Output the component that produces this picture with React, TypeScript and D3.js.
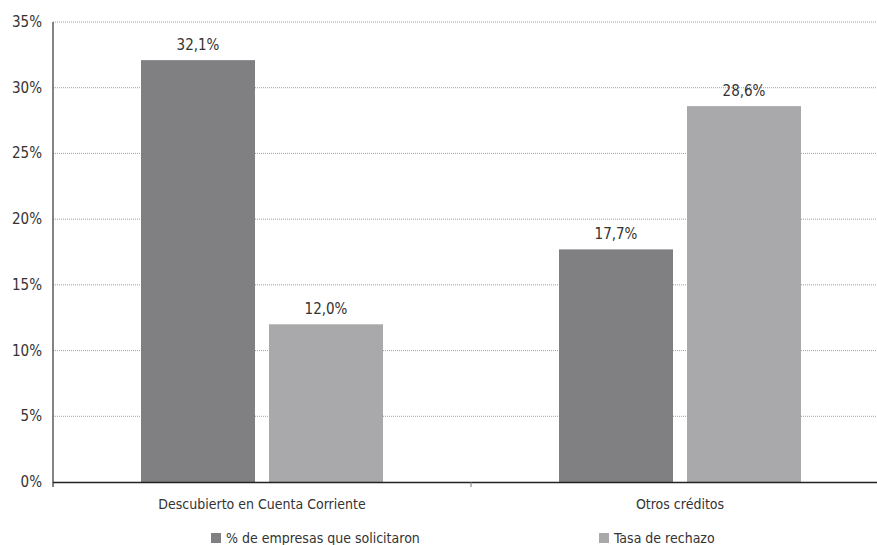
import React from "react";
import * as d3 from "d3";

const categories = ["Descubierto en Cuenta Corriente", "Otros créditos"];
const seriesNames = ["% de empresas que solicitaron", "Tasa de rechazo"];
const solicitaron = [32.1, 17.7];
const rechazo = [12.0, 28.6];
const yTicks = [0, 5, 10, 15, 20, 25, 30, 35];
const colors = ["#808083", "#a9a9ab"];

export default function App() {
  const W = 877, H = 545;
  const left = 53, right = 889, top = 22, bottom = 482;
  const font = "'DejaVu Sans Condensed', 'Liberation Sans Narrow', Arial, sans-serif";
  const x = d3.scaleBand<string>().domain(categories).range([left, right]);
  const y = d3.scaleLinear().domain([0, 35]).range([bottom, top]);
  const barW = 114, gap = 14;
  const series = [solicitaron, rechazo];
  const fmt = (v: number) => v.toFixed(1).replace(".", ",") + "%";
  return (
    <svg width={W} height={H} style={{ position: "absolute", left: 0, top: 0, background: "#fff" }} fontFamily={font}>
      {yTicks.map((t) => (
        <g key={t}>
          {t > 0 && (
            <line x1={left} x2={right} y1={y(t)} y2={y(t)} stroke="#a0a0a0" strokeWidth={1} strokeDasharray="1,1" />
          )}
          <text x={42} y={y(t) + 5} textAnchor="end" fontSize={15} fill="#333">{t}%</text>
        </g>
      ))}
      {categories.map((c, i) => {
        const cx = x(c)! + x.bandwidth() / 2;
        return (
          <g key={c}>
            {series.map((s, j) => {
              const bx = j === 0 ? cx - gap / 2 - barW : cx + gap / 2;
              return (
                <g key={j}>
                  <rect x={bx} y={y(s[i])} width={barW} height={bottom - y(s[i])} fill={colors[j]} />
                  <text x={bx + barW / 2} y={y(s[i]) - 10} textAnchor="middle" fontSize={15} fill="#333">{fmt(s[i])}</text>
                </g>
              );
            })}
            <text x={cx} y={509} textAnchor="middle" fontSize={14} fill="#333">{c}</text>
          </g>
        );
      })}
      <line x1={left} x2={left} y1={top} y2={bottom + 5} stroke="#333" strokeWidth={1.2} />
      <line x1={left} x2={right} y1={bottom + 0.5} y2={bottom + 0.5} stroke="#222" strokeWidth={1.5} />
      <line x1={x(categories[1])!} x2={x(categories[1])!} y1={bottom} y2={bottom + 5} stroke="#777" strokeWidth={1} />
      {seriesNames.map((n, j) => {
        const lx = j === 0 ? 211 : 599;
        return (
          <g key={n}>
            <rect x={lx} y={533} width={10} height={10} fill={colors[j]} />
            <text x={lx + 15} y={543} fontSize={14} fill="#333">{n}</text>
          </g>
        );
      })}
    </svg>
  );
}
